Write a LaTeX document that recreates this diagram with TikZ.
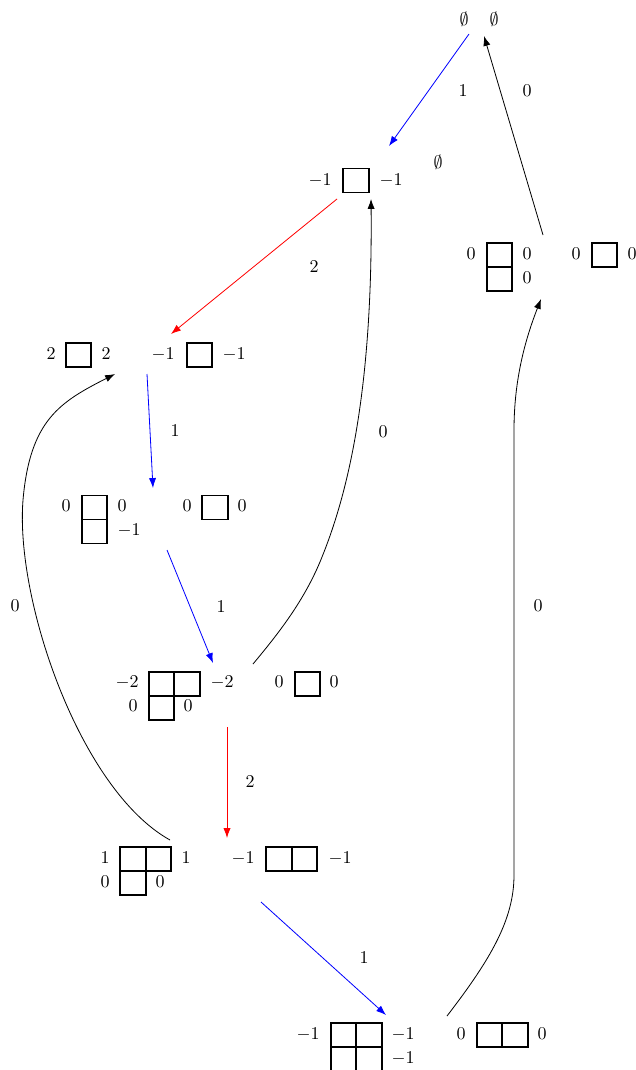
\documentclass[tikz,border=0pt]{standalone}
\usetikzlibrary{arrows.meta}
\begin{document}
\begin{tikzpicture}[x=0.5556pt,y=-0.5556pt,
  cell/.style={draw,line width=1pt,minimum width=14.1pt,minimum height=13.3pt,inner sep=0pt},
  lab/.style={inner sep=0pt},
  edgelab/.style={inner sep=0pt},
  conn/.style={line width=0.45pt,-{Latex[length=5.5pt,width=4pt]}},
  plain/.style={line width=0.45pt}]
\useasboundingbox (0,0) rectangle (636,1070);

% ---- state 1 (top)
\node[lab] (s1a) at (464,19) {$\emptyset$};
\node[lab] (s1b) at (494,19) {$\emptyset$};

% ---- state 2
\node[lab] (s2l) at (320,180) {$-1$};
\node[cell] (s2c1) at (356,180.5) {};
\node[lab] (s2r) at (391,180) {$-1$};
\node[lab] (s2e) at (438,162) {$\emptyset$};

% ---- state 3
\node[lab] (s3l) at (471,254) {$0$};
\node[cell] (s3c1) at (499.5,255) {};
\node[cell] (s3c2) at (499.5,279) {};
\node[lab] (s3r1) at (527,254) {$0$};
\node[lab] (s3r2) at (527,278) {$0$};
\node[lab] (s3bl) at (576,254) {$0$};
\node[cell] (s3bc1) at (604.5,255) {};
\node[lab] (s3br) at (632,254) {$0$};

% ---- state 4
\node[lab] (s4l) at (51,354) {$2$};
\node[cell] (s4c1) at (78.5,355) {};
\node[lab] (s4r) at (106,354) {$2$};
\node[lab] (s4bl) at (163,354) {$-1$};
\node[cell] (s4bc1) at (199.5,355) {};
\node[lab] (s4br) at (234,354) {$-1$};

% ---- state 5
\node[lab] (s5l) at (66,506) {$0$};
\node[cell] (s5c1) at (94.5,507.5) {};
\node[cell] (s5c2) at (94.5,531.5) {};
\node[lab] (s5r1) at (122,506) {$0$};
\node[lab] (s5r2) at (129,530) {$-1$};
\node[lab] (s5bl) at (187,506) {$0$};
\node[cell] (s5bc1) at (215,507.5) {};
\node[lab] (s5br) at (242,506) {$0$};

% ---- state 6
\node[lab] (s6l1) at (127,682) {$-2$};
\node[lab] (s6l2) at (133,706) {$0$};
\node[cell] (s6c1) at (161.5,684) {};
\node[cell] (s6c2) at (187,684) {};
\node[cell] (s6c3) at (161.5,708) {};
\node[lab] (s6r1) at (222,682) {$-2$};
\node[lab] (s6r2) at (188,706) {$0$};
\node[lab] (s6bl) at (279,682) {$0$};
\node[cell] (s6bc1) at (307.5,684) {};
\node[lab] (s6br) at (334,682) {$0$};

% ---- state 7
\node[lab] (s7l1) at (105,858) {$1$};
\node[lab] (s7l2) at (105,882) {$0$};
\node[cell] (s7c1) at (133,859) {};
\node[cell] (s7c2) at (158.5,859) {};
\node[cell] (s7c3) at (133,883) {};
\node[lab] (s7r1) at (186,858) {$1$};
\node[lab] (s7r2) at (160,882) {$0$};
\node[lab] (s7bl) at (243,858) {$-1$};
\node[cell] (s7bc1) at (279,859) {};
\node[cell] (s7bc2) at (304.5,859) {};
\node[lab] (s7br) at (340,858) {$-1$};

% ---- state 8
\node[lab] (s8l) at (308,1034) {$-1$};
\node[cell] (s8c1) at (343.5,1035) {};
\node[cell] (s8c2) at (369,1035) {};
\node[cell] (s8c3) at (343.5,1059) {};
\node[cell] (s8c4) at (369,1059) {};
\node[lab] (s8r1) at (403,1034) {$-1$};
\node[lab] (s8r2) at (403,1058) {$-1$};
\node[lab] (s8bl) at (461,1034) {$0$};
\node[cell] (s8bc1) at (489.5,1035) {};
\node[cell] (s8bc2) at (515,1035) {};
\node[lab] (s8br) at (542,1034) {$0$};

% ---- connector end points
\coordinate (e1s) at (469,34);   \coordinate (e1t) at (389,146);
\coordinate (e2s) at (543,235);  \coordinate (e2t) at (484,36);
\coordinate (e3s) at (337,199);  \coordinate (e3t) at (171,334);
\coordinate (e4s) at (253,664);  \coordinate (e4v) at (322,557); \coordinate (e4t) at (371,199);
\coordinate (e5s) at (147,374);  \coordinate (e5t) at (153,488);
\coordinate (e6s) at (167,550);  \coordinate (e6t) at (213,663);
\coordinate (e7s) at (227,727);  \coordinate (e7t) at (227,838);
\coordinate (e8s) at (170,840);  \coordinate (e8v) at (23,500);  \coordinate (e8t) at (115,374);
\coordinate (e9s) at (261,902);  \coordinate (e9t) at (386,1015);
\coordinate (e10s) at (447,1016); \coordinate (e10a) at (514,875); \coordinate (e10b) at (514,430); \coordinate (e10t) at (541,299);

% ---- connectors
\draw[conn,blue] (e1s) -- (e1t);
\draw[conn] (e2s) -- (e2t);
\draw[conn,red] (e3s) -- (e3t);
\draw[conn] (e4s) .. controls (278,634) and (305,600) .. (e4v)
   .. controls (345,500) and (373,400) .. (e4t);
\draw[conn,blue] (e5s) -- (e5t);
\draw[conn,blue] (e6s) -- (e6t);
\draw[conn,red] (e7s) -- (e7t);
\draw[conn] (e8s) .. controls (80,790) and (15,600) .. (e8v)
   .. controls (30,420) and (60,402) .. (e8t);
\draw[conn,blue] (e9s) -- (e9t);
\draw[conn] (e10s) .. controls (490,960) and (514,920) .. (e10a) -- (e10b)
   .. controls (514,380) and (525,340) .. (e10t);

% ---- connector labels
\node[edgelab] (w1) at (463,91) {$1$};
\node[edgelab] (w2) at (527,91) {$0$};
\node[edgelab] (w3) at (314,267) {$2$};
\node[edgelab] (w4) at (383,432) {$0$};
\node[edgelab] (w5) at (175,431) {$1$};
\node[edgelab] (w6) at (221,607) {$1$};
\node[edgelab] (w7) at (250,782) {$2$};
\node[edgelab] (w8) at (15,606) {$0$};
\node[edgelab] (w9) at (364,958) {$1$};
\node[edgelab] (w10) at (538,606) {$0$};
\end{tikzpicture}
\end{document}
